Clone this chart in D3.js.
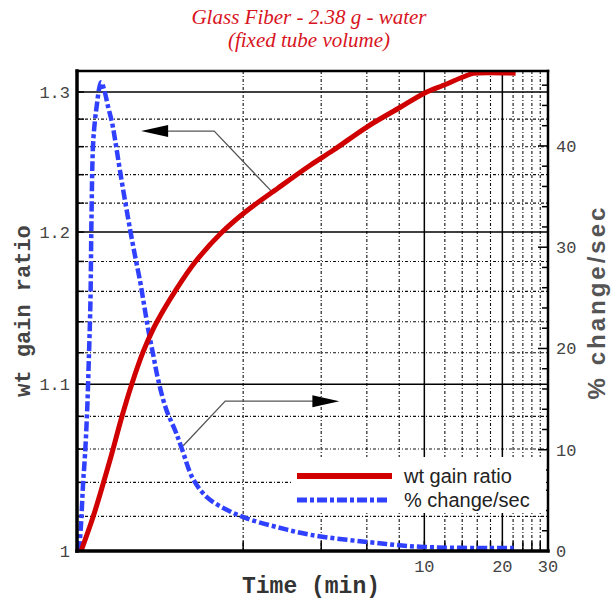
<!DOCTYPE html>
<html>
<head>
<meta charset="utf-8">
<script src="https://cdn.jsdelivr.net/npm/d3@7"></script>
<style>
  body { margin: 0; background: #fff; }
  svg { display: block; }
</style>
</head>
<body>
<script>
// wt gain ratio (left axis, log scale) vs time (min, log scale)
const gainTime = [0.474, 0.527, 0.576, 0.619, 0.682, 0.739, 0.822, 0.899, 0.991, 1.093, 1.306, 1.645,
  2.037, 2.73, 3.63, 4.45, 6.02, 8.08, 10, 11.84, 14.65, 15.46, 22.5];
const gainRatio = [1.000, 1.0196, 1.0390, 1.0558, 1.0802, 1.0988, 1.1205, 1.1352, 1.1483, 1.1602, 1.1796, 1.1993,
  1.2138, 1.2306, 1.2467, 1.2574, 1.2744, 1.2887, 1.2991, 1.3050, 1.3125, 1.3140, 1.3140];

// % change/sec (right axis, linear)
const rateTime = [0.4656, 0.4736, 0.4820, 0.4906, 0.4993, 0.5083, 0.5151, 0.5196, 0.5270, 0.5365, 0.5461,
  0.5558, 0.5658, 0.581, 0.602, 0.624, 0.641, 0.676, 0.733, 0.766, 0.801, 0.822, 0.860, 0.899, 0.940,
  1.009, 1.093, 1.153, 1.282, 1.452, 1.735, 2.074, 2.71, 3.63, 6.02, 9.91, 22.1];
const rateValue = [0, 2.6, 6.5, 9.5, 13.4, 19.4, 24.8, 32.6, 40.1, 42.6, 44.2,
  45.6, 46.3, 45.6, 43.9, 42.3, 40.6, 36.9, 31.7, 29.1, 26.6, 24.9, 21.9, 19.4, 16.9,
  14.0, 11.9, 10.3, 7.1, 5.3, 4.05, 3.2, 2.35, 1.6, 0.89, 0.4, 0.3];

// grid and tick values
const xMajorGrid = [10, 20];
const xMinorGrid = [2, 4, 6, 8, 12, 14, 16, 18, 22, 24, 26, 28];
const xLabels = [10, 20, 30];
const yMajorGrid = [1.1, 1.2, 1.3];
const yMinorGrid = [1.02, 1.04, 1.06, 1.08, 1.12, 1.14, 1.16, 1.18, 1.22, 1.24, 1.26, 1.28];
const yLabels = [1, 1.1, 1.2, 1.3];
const y2Labels = [0, 10, 20, 30, 40];
const y2Ticks = d3.range(0, 48, 2);

const legendNames = ["wt gain ratio", "% change/sec"];

const W = 613, H = 603;
const margin = {top: 71, right: 65, bottom: 52, left: 77};

const svg = d3.select("body").append("svg")
  .attr("width", W).attr("height", H);

const x = d3.scaleLog().domain([0.457, 30]).range([margin.left, W - margin.right]);
const y = d3.scaleLog().domain([1, 1.3157]).range([H - margin.bottom, margin.top]);
const y2 = d3.scaleLinear().domain([0, 47.4]).range([H - margin.bottom, margin.top]);

const x0 = x.range()[0], x1 = x.range()[1], yb = y.range()[0], yt = y.range()[1];

// title
const title = svg.append("g")
  .attr("font-family", "'Liberation Serif', 'Times New Roman', serif")
  .attr("font-style", "italic")
  .attr("font-size", 21)
  .attr("fill", "#d8141e")
  .attr("text-anchor", "middle");
title.append("text").attr("x", 309).attr("y", 24).text("Glass Fiber - 2.38 g - water");
title.append("text").attr("x", 309).attr("y", 47).text("(fixed tube volume)");

// grid
const dash = "3,2,1,2";
const grid = svg.append("g");
grid.selectAll(".vmin").data(xMinorGrid).join("line")
  .attr("x1", d => x(d)).attr("x2", d => x(d)).attr("y1", yt).attr("y2", yb)
  .attr("stroke", "#111").attr("stroke-width", 1.1).attr("stroke-dasharray", dash);
grid.selectAll(".hmin").data(yMinorGrid).join("line")
  .attr("x1", x0).attr("x2", x1).attr("y1", d => y(d)).attr("y2", d => y(d))
  .attr("stroke", "#111").attr("stroke-width", 1.1).attr("stroke-dasharray", dash);
grid.selectAll(".vmaj").data(xMajorGrid).join("line")
  .attr("x1", d => x(d)).attr("x2", d => x(d)).attr("y1", yt).attr("y2", yb)
  .attr("stroke", "#000").attr("stroke-width", 1.5);
grid.selectAll(".hmaj").data(yMajorGrid).join("line")
  .attr("x1", x0).attr("x2", x1).attr("y1", d => y(d)).attr("y2", d => y(d))
  .attr("stroke", "#000").attr("stroke-width", 1.5);

// inward ticks
const ticks = svg.append("g").attr("stroke", "#000").attr("stroke-width", 1.5);
ticks.selectAll(".bt").data(xMinorGrid.concat(xMajorGrid)).join("line")
  .attr("x1", d => x(d)).attr("x2", d => x(d)).attr("y1", yb).attr("y2", yb - 10);
ticks.selectAll(".lt").data(yMinorGrid.concat(yMajorGrid)).join("line")
  .attr("x1", x0).attr("x2", x0 + 7).attr("y1", d => y(d)).attr("y2", d => y(d));
ticks.selectAll(".rt").data(y2Ticks).join("line")
  .attr("x1", x1).attr("x2", d => x1 - (d % 10 === 0 ? 10 : 6))
  .attr("y1", d => y2(d)).attr("y2", d => y2(d));

// annotation arrows (data coordinates)
const arrowGain = [[1.018, 1.2713], [1.546, 1.2713], [2.589, 1.2277]];
const arrowRate = [[1.174, 10.4], [1.705, 14.8], [3.72, 14.8]];
svg.append("path")
  .attr("d", d3.line()(arrowGain.map(p => [x(p[0]), y(p[1])])))
  .attr("fill", "none").attr("stroke", "#555").attr("stroke-width", 1.3);
svg.append("path")
  .attr("d", d3.line()(arrowRate.map(p => [x(p[0]), y2(p[1])])))
  .attr("fill", "none").attr("stroke", "#555").attr("stroke-width", 1.3);
function arrowHead(tx, ty, dir) {
  svg.append("path")
    .attr("d", `M${tx},${ty} L${tx + dir * 27},${ty - 6} L${tx + dir * 27},${ty + 6} Z`)
    .attr("fill", "#000");
}
arrowHead(x(0.808), y(1.2713), 1);
arrowHead(x(4.70), y2(14.8), -1);

// legend box
const lg = svg.append("g");
lg.append("rect").attr("x", 292).attr("y", 457).attr("width", 254).attr("height", 56).attr("fill", "#fff");

// curves
const gainLine = d3.line()
  .x((d, i) => x(gainTime[i])).y(d => y(d))
  .curve(d3.curveCatmullRom.alpha(0.5));
const rateLine = d3.line()
  .x((d, i) => x(rateTime[i])).y(d => y2(d))
  .curve(d3.curveCatmullRom.alpha(0.5));

svg.append("path").attr("d", rateLine(rateValue))
  .attr("fill", "none").attr("stroke", "#3040ff").attr("stroke-width", 4.5)
  .attr("stroke-dasharray", "10,3,4,3");
svg.append("path").attr("d", gainLine(gainRatio))
  .attr("fill", "none").attr("stroke", "#d00000").attr("stroke-width", 5);

// legend entries
lg.raise();
lg.append("line").attr("x1", 297).attr("x2", 392).attr("y1", 476).attr("y2", 476)
  .attr("stroke", "#d00000").attr("stroke-width", 6);
lg.append("line").attr("x1", 297).attr("x2", 387).attr("y1", 500).attr("y2", 500)
  .attr("stroke", "#3040ff").attr("stroke-width", 5).attr("stroke-dasharray", "10,3,4,3");
lg.selectAll("text").data(legendNames).join("text")
  .attr("x", 404).attr("y", (d, i) => 483 + i * 24)
  .attr("font-family", "'Liberation Sans', Arial, sans-serif")
  .attr("font-size", 20).attr("fill", "#222")
  .text(d => d);

// frame
const fr = svg.append("g").attr("stroke", "#000").attr("stroke-linecap", "square");
fr.append("line").attr("x1", x0).attr("x2", x1).attr("y1", yt).attr("y2", yt).attr("stroke-width", 2.5);
fr.append("line").attr("x1", x1).attr("x2", x1).attr("y1", yt).attr("y2", yb).attr("stroke-width", 2.5);
fr.append("line").attr("x1", x0).attr("x2", x0).attr("y1", yt).attr("y2", yb).attr("stroke-width", 3.5);
fr.append("line").attr("x1", x0).attr("x2", x1).attr("y1", yb).attr("y2", yb).attr("stroke-width", 3.5);

// tick labels
const mono = "'Liberation Mono', 'Courier New', monospace";
svg.append("g").selectAll("text").data(yLabels).join("text")
  .attr("x", x0 - 7).attr("y", d => y(d)).attr("dy", "0.35em")
  .attr("text-anchor", "end").attr("font-family", mono).attr("font-size", 17).attr("fill", "#444")
  .text(d => d === 1 ? "1" : d.toFixed(1));
svg.append("g").selectAll("text").data(y2Labels).join("text")
  .attr("x", x1 + 8).attr("y", d => y2(d)).attr("dy", "0.35em")
  .attr("font-family", mono).attr("font-size", 17).attr("fill", "#444")
  .text(d => d);
svg.append("g").selectAll("text").data(xLabels).join("text")
  .attr("x", d => x(d)).attr("y", yb + 21)
  .attr("text-anchor", "middle").attr("font-family", mono).attr("font-size", 17).attr("fill", "#444")
  .text(d => d);

// axis titles
svg.append("text").attr("x", 311).attr("y", 593)
  .attr("text-anchor", "middle").attr("font-family", mono).attr("font-weight", "bold")
  .attr("font-size", 23).attr("fill", "#333").text("Time (min)");
svg.append("text").attr("transform", "translate(30,311) rotate(-90)")
  .attr("text-anchor", "middle").attr("font-family", mono).attr("font-weight", "bold")
  .attr("font-size", 22).attr("fill", "#444").text("wt gain ratio");
svg.append("text").attr("transform", "translate(605,302) rotate(-90)")
  .attr("text-anchor", "middle").attr("font-family", "'Liberation Sans', Arial, sans-serif")
  .attr("font-weight", "bold").attr("font-size", 24).attr("letter-spacing", 3)
  .attr("fill", "#555").text("% change/sec");
</script>
</body>
</html>
